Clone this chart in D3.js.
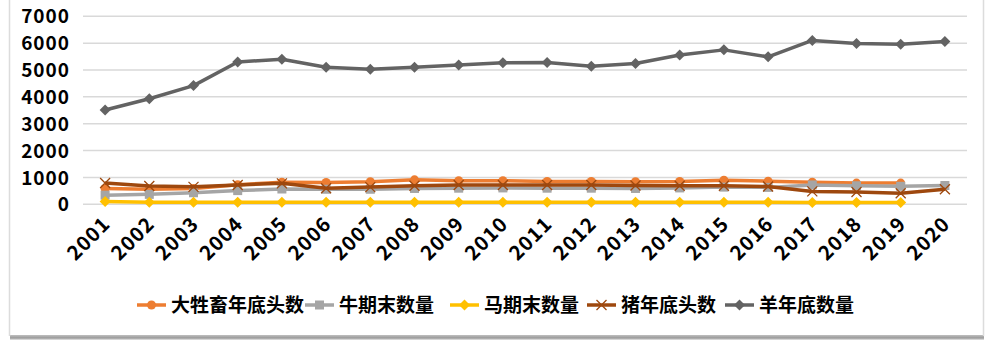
<!DOCTYPE html>
<html>
<head>
<meta charset="utf-8">
<script src="https://cdn.jsdelivr.net/npm/d3@7"></script>
<style>
  html, body { margin: 0; padding: 0; background: #fff; }
  svg { display: block; }
  text { font-family: "Noto Sans CJK SC", "Noto Sans", sans-serif; font-weight: 700; fill: #000; }
</style>
</head>
<body>
<svg id="chart" width="994" height="345"></svg>
<script>
// Years on the category axis
const years = ["2001","2002","2003","2004","2005","2006","2007","2008","2009","2010",
               "2011","2012","2013","2014","2015","2016","2017","2018","2019","2020"];

// Livestock counts per year (null = no record)
const bigLivestock = [590, 560, 590, 730, 820, 810, 840, 910, 880, 880, 850, 850, 840, 850, 900, 860, 820, 790, 790, null];
const cattle       = [340, 370, 430, 510, 570, 560, 560, 590, 600, 610, 600, 600, 590, 610, 640, 630, 720, 690, 670, 700];
const horses       = [100, 80, 75, 75, 75, 75, 75, 75, 75, 75, 75, 75, 75, 80, 80, 75, 70, 70, 70, null];
const pigs         = [790, 680, 650, 720, 780, 600, 640, 690, 720, 720, 720, 720, 700, 690, 690, 660, 480, 460, 410, 560];
const sheep        = [3510, 3930, 4420, 5300, 5400, 5100, 5030, 5100, 5190, 5270, 5280, 5140, 5240, 5560, 5750, 5490, 6100, 5990, 5960, 6060];

const yTicks = [0, 1000, 2000, 3000, 4000, 5000, 6000, 7000];

const seriesNames  = ["大牲畜年底头数", "牛期末数量", "马期末数量", "猪年底头数", "羊年底数量"];
const seriesValues = [bigLivestock, cattle, horses, pigs, sheep];
const seriesColors = ["#ED7D31", "#A5A5A5", "#FFC000", "#9E480E", "#636363"];
const seriesMarkers = ["circle", "square", "diamond", "cross", "diamond"];

const svg = d3.select("#chart");

// Frame: thin side borders and a soft shadow along the bottom
const defs = svg.append("defs");
const grad = defs.append("linearGradient").attr("id", "shadow").attr("x1", 0).attr("y1", 0).attr("x2", 0).attr("y2", 1);
grad.append("stop").attr("offset", "0%").attr("stop-color", "#bfbfbf");
grad.append("stop").attr("offset", "60%").attr("stop-color", "#9a9a9a");
grad.append("stop").attr("offset", "100%").attr("stop-color", "#e8e8e8");
svg.append("rect").attr("x", 10).attr("y", 335).attr("width", 974).attr("height", 5).attr("fill", "url(#shadow)");
svg.append("line").attr("x1", 9.5).attr("x2", 9.5).attr("y1", 0).attr("y2", 336).attr("stroke", "#dcdcdc").attr("stroke-width", 1.5);
svg.append("line").attr("x1", 983.5).attr("x2", 983.5).attr("y1", 0).attr("y2", 336).attr("stroke", "#dcdcdc").attr("stroke-width", 1.5);

const plot = { left: 83, right: 967, top: 16.3, bottom: 204.3 };

const x = d3.scalePoint().domain(years).range([plot.left, plot.right]).padding(0.5);
const y = d3.scaleLinear().domain([0, 7000]).range([plot.bottom, plot.top]);

// Horizontal gridlines
svg.append("g").selectAll("line").data(yTicks).join("line")
  .attr("x1", plot.left).attr("x2", plot.right)
  .attr("y1", d => y(d)).attr("y2", d => y(d))
  .attr("stroke", "#d9d9d9").attr("stroke-width", 1.5);

// Value axis
const yAxis = svg.append("g").attr("transform", `translate(${plot.left},0)`)
  .call(d3.axisLeft(y).tickValues(yTicks).tickSize(0).tickPadding(13).tickFormat(d3.format("d")));
yAxis.select(".domain").remove();
yAxis.selectAll("text").style("font-size", "19px").style("letter-spacing", "1px")
  .attr("dy", "0.35em");

// Category axis with slanted year labels
const xAxis = svg.append("g").attr("transform", `translate(0,${plot.bottom})`)
  .call(d3.axisBottom(x).tickSize(0).tickPadding(0));
xAxis.select(".domain").remove();
xAxis.selectAll("text")
  .style("font-size", "20px").style("letter-spacing", "1px")
  .attr("text-anchor", "end")
  .attr("dy", null)
  .attr("transform", "translate(6,21) rotate(-45)");

// Marker shapes
function drawMarker(g, type, color, size) {
  if (type === "circle") {
    g.append("circle").attr("r", size / 2).attr("fill", color);
  } else if (type === "square") {
    g.append("rect").attr("x", -size / 2).attr("y", -size / 2).attr("width", size).attr("height", size).attr("fill", color);
  } else if (type === "diamond") {
    const s = size / 2 + 1;
    g.append("path").attr("d", `M0,${-s}L${s},0L0,${s}L${-s},0Z`).attr("fill", color);
  } else if (type === "cross") {
    const s = size / 2;
    g.append("path").attr("d", `M${-s},${-s}L${s},${s}M${-s},${s}L${s},${-s}`)
      .attr("stroke", color).attr("stroke-width", 1.3).attr("fill", "none");
  }
}

const line = d3.line()
  .defined(d => d.v != null)
  .x(d => x(d.year))
  .y(d => y(d.v));

seriesValues.forEach((vals, i) => {
  const pts = years.map((yr, j) => ({ year: yr, v: vals[j] }));
  const g = svg.append("g");
  g.append("path").datum(pts).attr("d", line)
    .attr("fill", "none").attr("stroke", seriesColors[i]).attr("stroke-width", 3.5)
    .attr("stroke-linejoin", "round");
  pts.filter(p => p.v != null).forEach(p => {
    const m = g.append("g").attr("transform", `translate(${x(p.year)},${y(p.v)})`);
    drawMarker(m, seriesMarkers[i], seriesColors[i], seriesMarkers[i] === "cross" ? 10 : 9);
  });
});

// Legend
const legendX = [137, 305, 450, 587, 725];
const legend = svg.append("g").attr("transform", "translate(0,305)");
seriesNames.forEach((name, i) => {
  const g = legend.append("g").attr("transform", `translate(${legendX[i]},0)`);
  g.append("line").attr("x1", 0).attr("x2", 29).attr("y1", 0).attr("y2", 0)
    .attr("stroke", seriesColors[i]).attr("stroke-width", 3.5);
  const m = g.append("g").attr("transform", "translate(14.5,0)");
  drawMarker(m, seriesMarkers[i], seriesColors[i], seriesMarkers[i] === "cross" ? 10 : 9);
  g.append("text").attr("x", 34).attr("y", 0).attr("dy", "0.36em")
    .style("font-size", "19px").text(name);
});
</script>
</body>
</html>
